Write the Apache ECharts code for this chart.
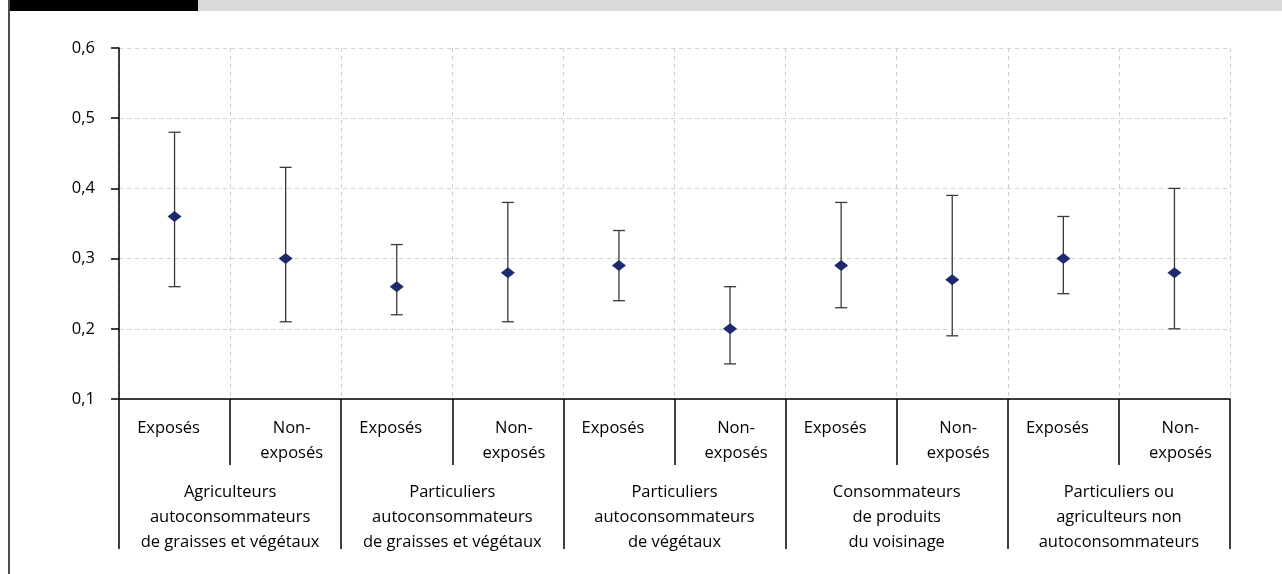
<!DOCTYPE html>
<html><head><meta charset="utf-8">
<script src="https://cdn.jsdelivr.net/npm/echarts@6/dist/echarts.min.js"></script>
<style>html,body{margin:0;padding:0;background:#fff}#c{width:1282px;height:574px}</style>
</head><body><div id="c"></div>
<script>
const subCategories = ['Exposés','Non-\nexposés','Exposés','Non-\nexposés','Exposés','Non-\nexposés','Exposés','Non-\nexposés','Exposés','Non-\nexposés'];
const groups = ['Agriculteurs\nautoconsommateurs\nde graisses et végétaux','Particuliers\nautoconsommateurs\nde graisses et végétaux','Particuliers\nautoconsommateurs\nde végétaux','Consommateurs\nde produits\ndu voisinage','Particuliers ou\nagriculteurs non\nautoconsommateurs'];
const estimate = [0.36,0.30,0.26,0.28,0.29,0.20,0.29,0.27,0.30,0.28];
const lower    = [0.26,0.21,0.22,0.21,0.24,0.15,0.23,0.19,0.25,0.20];
const upper    = [0.48,0.43,0.32,0.38,0.34,0.26,0.38,0.39,0.36,0.40];
const yTicks = {min:0.1, max:0.6, interval:0.1};

const FONT = 'Open Sans';
const FS = 16.5;
const chart = echarts.init(document.getElementById('c'));
const subData = subCategories.map(s => s.startsWith('Non') ?
  {value:s, textStyle:{padding:[0,0,0,12]}} : {value:s, textStyle:{padding:[0,12,0,0]}});
chart.setOption({
  animation:false,
  textStyle:{fontFamily:FONT},
  graphic:[
    {type:'rect', shape:{x:8,y:0,width:1274,height:11}, style:{fill:'#d9d9db'}, z:100},
    {type:'rect', shape:{x:8,y:0,width:190,height:11}, style:{fill:'#000'}, z:101},
    {type:'rect', shape:{x:8,y:0,width:2,height:574}, style:{fill:'#4d4d4d'}, z:101}
  ],
  grid:{left:119, right:52, top:48, bottom:175},
  xAxis:[
    {type:'category', data:subData, position:'bottom', boundaryGap:true,
     axisLine:{show:true, lineStyle:{color:'#000', width:1.5}},
     axisTick:{show:true, interval:0, length:66, lineStyle:{color:'#000', width:1.5}},
     axisLabel:{interval:0, margin:17, fontSize:FS, color:'#000', lineHeight:25, fontFamily:FONT},
     splitLine:{show:true, interval:0, lineStyle:{color:'#cfcfcf', type:[4,4], width:1}}
    },
    {type:'category', data:groups, position:'bottom', boundaryGap:true,
     axisLine:{show:false},
     axisTick:{show:true, interval:0, length:150, lineStyle:{color:'#000', width:1.5}},
     axisLabel:{interval:0, margin:81, fontSize:FS, color:'#000', lineHeight:25, fontFamily:FONT},
     splitLine:{show:false}
    }
  ],
  yAxis:{type:'value', min:yTicks.min, max:yTicks.max, interval:yTicks.interval,
    axisLine:{show:true, lineStyle:{color:'#000', width:1.5}},
    axisTick:{show:true, length:8, lineStyle:{color:'#000', width:1.5}},
    axisLabel:{margin:24, fontSize:FS, color:'#000', fontFamily:FONT,
      formatter:v => v.toFixed(1).replace('.', ',')},
    splitLine:{show:true, lineStyle:{color:'#cfcfcf', type:[4,4], width:1}}
  },
  series:[
    {type:'custom', xAxisIndex:0,
     data: subCategories.map((c,i)=>[i, lower[i], upper[i]]),
     renderItem:(params, api)=>{
       const lo = api.coord([api.value(0), api.value(1)]);
       const hi = api.coord([api.value(0), api.value(2)]);
       const w = 6;
       const st = {stroke:'#3a3a3a', lineWidth:1.3};
       return {type:'group', children:[
         {type:'line', shape:{x1:lo[0],y1:lo[1],x2:hi[0],y2:hi[1]}, style:st},
         {type:'line', shape:{x1:lo[0]-w,y1:lo[1],x2:lo[0]+w,y2:lo[1]}, style:st},
         {type:'line', shape:{x1:hi[0]-w,y1:hi[1],x2:hi[0]+w,y2:hi[1]}, style:st}
       ]};
     }, z:2},
    {type:'scatter', xAxisIndex:0, symbol:'diamond', symbolSize:[14,11],
     itemStyle:{color:'#1f2a6e', opacity:1},
     data: estimate.map((v,i)=>[i,v]), z:3}
  ]
});
</script></body></html>
